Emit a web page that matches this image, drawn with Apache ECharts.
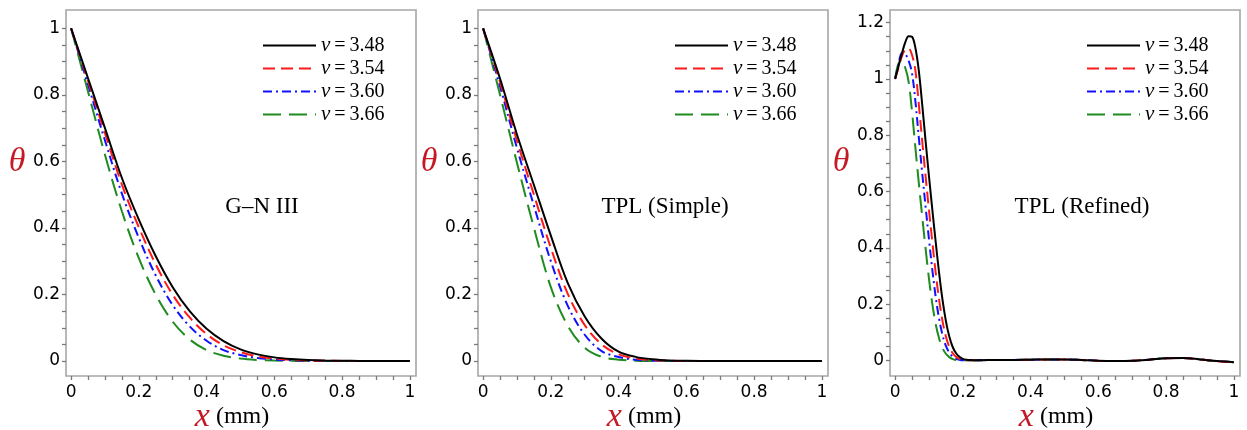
<!DOCTYPE html>
<html>
<head>
<meta charset="utf-8">
<script src="https://cdn.jsdelivr.net/npm/echarts@6/dist/echarts.min.js"></script>
<style>
html,body{margin:0;padding:0;background:#fff;}
#c{width:1247px;height:430px;}
</style>
</head>
<body>
<div id="c"></div>
<script>
// ---------- data ----------
const seriesNames = ['ν=3.48', 'ν=3.54', 'ν=3.60', 'ν=3.66'];
const panelTitles = ['G–N III', 'TPL (Simple)', 'TPL (Refined)'];

// x positions (mm) for panels 1 and 2
const xsAB = [0, 0.05, 0.1, 0.15, 0.2, 0.25, 0.3, 0.35, 0.4, 0.45, 0.5,
              0.55, 0.6, 0.65, 0.7, 0.75, 0.8, 0.85, 0.9, 0.95, 1.0];

// Panel 1 : G–N III
const gn348 = [1, 0.85, 0.70, 0.55, 0.425, 0.315, 0.222, 0.150, 0.097, 0.060, 0.035,
               0.020, 0.011, 0.006, 0.003, 0.0015, 0.0007, 0.0003, 0.0001, 0, 0];
const gn354 = [1, 0.842, 0.685, 0.53, 0.402, 0.29, 0.199, 0.131, 0.081, 0.047, 0.027,
               0.014, 0.0075, 0.0038, 0.0018, 0.0008, 0.0004, 0.0002, 0, 0, 0];
const gn360 = [1, 0.831, 0.663, 0.503, 0.37, 0.257, 0.168, 0.104, 0.061, 0.033, 0.018,
               0.0093, 0.0045, 0.002, 0.0009, 0.0004, 0.0002, 0, 0, 0, 0];
const gn366 = [1, 0.81, 0.62, 0.45, 0.309, 0.199, 0.118, 0.065, 0.033, 0.016, 0.0073,
               0.0032, 0.0013, 0.0005, 0.0002, 0, 0, 0, 0, 0, 0];

// Panel 2 : TPL (Simple)
const ts348 = [1, 0.849, 0.681, 0.529, 0.377, 0.234, 0.134, 0.067, 0.028, 0.0125, 0.005,
               0.0015, 0.0005, 0, 0, 0, 0, 0, 0, 0, 0];
const ts354 = [1, 0.838, 0.662, 0.50, 0.34, 0.202, 0.108, 0.050, 0.020, 0.008, 0.003,
               0.001, 0, 0, 0, 0, 0, 0, 0, 0, 0];
const ts360 = [1, 0.826, 0.64, 0.467, 0.30, 0.166, 0.079, 0.030, 0.012, 0.004, 0.0012,
               0.0003, 0, 0, 0, 0, 0, 0, 0, 0, 0];
const ts366 = [1, 0.80, 0.596, 0.401, 0.222, 0.106, 0.040, 0.0125, 0.004, 0.001, 0.0002,
               0, 0, 0, 0, 0, 0, 0, 0, 0, 0];

// Panel 3 : TPL (Refined)
const xsC = [0, 0.01, 0.02, 0.03, 0.04, 0.05, 0.06, 0.07, 0.08, 0.09, 0.10, 0.11, 0.12,
             0.13, 0.14, 0.15, 0.16, 0.17, 0.18, 0.19, 0.20, 0.21, 0.22, 0.23, 0.24, 0.25,
             0.3, 0.35, 0.4, 0.45, 0.5, 0.55, 0.6, 0.65, 0.7, 0.75, 0.8, 0.85, 0.9, 0.95, 1.0];
const tr348 = [1.0, 1.045, 1.09, 1.13, 1.152, 1.15, 1.11, 1.03, 0.91, 0.78, 0.655, 0.535, 0.42,
               0.31, 0.215, 0.14, 0.085, 0.048, 0.026, 0.013, 0.006, 0.003, 0.002, 0.001, 0.001, 0.001,
               0.002, 0.002, 0.003, 0.004, 0.004, 0.002, -0.001, -0.002, -0.001, 0.003, 0.008, 0.009, 0.004, -0.002, -0.006];
const tr354 = [1.0, 1.04, 1.08, 1.105, 1.108, 1.085, 1.03, 0.91, 0.78, 0.655, 0.535, 0.42, 0.31,
               0.215, 0.14, 0.085, 0.048, 0.026, 0.013, 0.006, 0.003, 0.001, 0.001, 0.001, 0.001, 0.001,
               0.002, 0.002, 0.003, 0.004, 0.004, 0.002, -0.001, -0.002, -0.001, 0.003, 0.008, 0.009, 0.004, -0.002, -0.006];
const tr360 = [1.0, 1.05, 1.092, 1.088, 1.065, 1.02, 0.92, 0.793, 0.667, 0.547, 0.431, 0.321, 0.225,
               0.148, 0.091, 0.052, 0.028, 0.014, 0.007, 0.003, 0.001, 0.001, 0.001, 0.001, 0.001, 0.001,
               0.002, 0.002, 0.003, 0.004, 0.004, 0.002, -0.001, -0.002, -0.001, 0.003, 0.008, 0.009, 0.004, -0.002, -0.006];
const tr366 = [1.0, 1.055, 1.063, 1.04, 0.99, 0.884, 0.755, 0.631, 0.512, 0.398, 0.291, 0.20, 0.129,
               0.078, 0.044, 0.024, 0.012, 0.005, 0.002, 0.001, 0.001, 0.001, 0.001, 0.001, 0.001, 0.001,
               0.002, 0.002, 0.003, 0.004, 0.004, 0.002, -0.001, -0.002, -0.001, 0.003, 0.008, 0.009, 0.004, -0.002, -0.006];

// tick labels
const xTickLabels = [0, 0.2, 0.4, 0.6, 0.8, 1];
const yTickLabelsAB = [0, 0.2, 0.4, 0.6, 0.8, 1];
const yTickLabelsC = [0, 0.2, 0.4, 0.6, 0.8, 1, 1.2];

// ---------- layout / style ----------
const panels = [
  { xs: xsAB, ys: [gn348, gn354, gn360, gn366], yMin: -0.045, yMax: 1.055, yLabels: yTickLabelsAB, yTickMax: 1.0,
    left: 66, titleX: 262 },
  { xs: xsAB, ys: [ts348, ts354, ts360, ts366], yMin: -0.045, yMax: 1.055, yLabels: yTickLabelsAB, yTickMax: 1.0,
    left: 478, titleX: 665 },
  { xs: xsC, ys: [tr348, tr354, tr360, tr366], yMin: -0.055, yMax: 1.245, yLabels: yTickLabelsC, yTickMax: 1.2,
    left: 890, titleX: 1082 }
];
const lineStyles = [
  { color: '#000000', type: 'solid' },
  { color: '#ff1a1a', type: [12, 6] },
  { color: '#1010ff', type: [9, 4, 2, 4] },
  { color: '#1f8c1f', type: [18, 8] }
];
const red = '#c41a26';
const tickFont = { fontFamily: 'DejaVu Sans', fontSize: 17, color: '#000' };

function range(a, b, step) {
  const out = [];
  const n = Math.round((b - a) / step);
  for (let i = 0; i <= n; i++) out.push(+(a + i * step).toFixed(4));
  return out;
}
const fmt = v => String(+(+v).toFixed(2));

const grid = [], xAxis = [], yAxis = [], series = [], legend = [], graphic = [];
panels.forEach((p, i) => {
  grid.push({ left: p.left, top: 10, width: 350, height: 366, show: true,
              borderColor: '#a6a6a6', borderWidth: 1.6, backgroundColor: '#fff' });
  xAxis.push({
    type: 'value', gridIndex: i, min: -0.015, max: 1.018, position: 'bottom',
    axisLine: { show: false, onZero: false }, splitLine: { show: false },
    axisTick: { show: true, length: 4, customValues: range(0, 1, 0.05),
                lineStyle: { color: '#7a7a7a', width: 1.3 } },
    axisLabel: { customValues: xTickLabels, formatter: fmt, margin: 8, ...tickFont }
  });
  yAxis.push({
    type: 'value', gridIndex: i, min: p.yMin, max: p.yMax, position: 'left',
    axisLine: { show: false, onZero: false }, splitLine: { show: false },
    axisTick: { show: true, length: 4, customValues: range(0, p.yTickMax, 0.05),
                lineStyle: { color: '#7a7a7a', width: 1.3 } },
    axisLabel: { customValues: p.yLabels, formatter: fmt, margin: 6, ...tickFont }
  });
  p.ys.forEach((ys, k) => {
    series.push({
      name: seriesNames[k], type: 'line', xAxisIndex: i, yAxisIndex: i,
      data: p.xs.map((x, j) => [x, ys[j]]),
      showSymbol: false, symbol: 'none', smooth: 0.35,
      lineStyle: { color: lineStyles[k].color, type: lineStyles[k].type, width: 2 },
      itemStyle: { color: lineStyles[k].color },
      z: 10 - k, animation: false
    });
  });
  legend.push({
    data: seriesNames, orient: 'vertical', left: p.left + 196, top: 35,
    padding: 0, itemGap: 2, itemWidth: 53, itemHeight: 14, selectedMode: false,
    itemStyle: { opacity: 0, borderWidth: 0 },
    formatter: n => '{v|ν}{t|\u2009=\u2009' + n.split('=')[1] + '}',
    textStyle: {
      lineHeight: 20,
      rich: {
        v: { fontFamily: 'Liberation Serif', fontStyle: 'italic', fontSize: 21, color: '#000' },
        t: { fontFamily: 'Liberation Serif', fontSize: 20, color: '#000' }
      }
    }
  });
  graphic.push({
    type: 'text', x: p.left - 49, y: 162, z: 100,
    style: { text: 'θ', fill: red, font: 'italic 34px "Liberation Serif"',
             textAlign: 'center', textVerticalAlign: 'middle' }
  });
  graphic.push({
    type: 'text', x: p.left + 166, y: 417, z: 100,
    style: {
      text: '{a|x}{b| (mm)}', textAlign: 'center', textVerticalAlign: 'middle',
      rich: {
        a: { fontFamily: 'Liberation Serif', fontStyle: 'italic', fontSize: 34, fill: red, color: red },
        b: { fontFamily: 'Liberation Serif', fontSize: 24, fill: '#000', color: '#000' }
      }
    }
  });
  graphic.push({
    type: 'text', x: p.titleX, y: 207, z: 100,
    style: { text: panelTitles[i], fill: '#000', font: '23px "Liberation Serif"',
             textAlign: 'center', textVerticalAlign: 'middle' }
  });
});

const chart = echarts.init(document.getElementById('c'), null, { renderer: 'canvas' });
chart.setOption({
  backgroundColor: '#fff',
  animation: false,
  grid, xAxis, yAxis, series, legend, graphic
});
</script>
</body>
</html>
